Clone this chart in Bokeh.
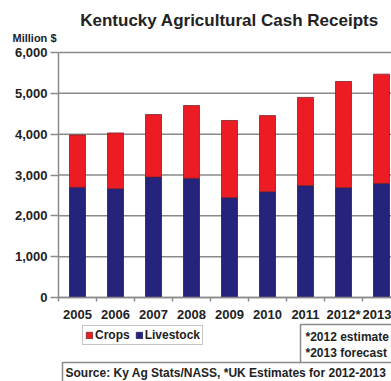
from bokeh.plotting import figure
from bokeh.models import (ColumnDataSource, FixedTicker, NumeralTickFormatter,
                          Label, Legend, LegendItem, Range1d)
from bokeh.embed import file_html
from bokeh.resources import INLINE

years = ["2005", "2006", "2007", "2008", "2009", "2010", "2011", "2012*", "2013"]
livestock = [2700, 2665, 2950, 2920, 2445, 2590, 2740, 2690, 2790]
crops = [1280, 1365, 1530, 1780, 1890, 1865, 2160, 2600, 2680]
y_ticks = [0, 1000, 2000, 3000, 4000, 5000, 6000]

title_text = "Kentucky Agricultural Cash Receipts"
y_title = "Million $"
note_text = "*2012 estimate\n*2013 forecast"
source_text = "Source:  Ky Ag Stats/NASS, *UK Estimates for 2012-2013"

RED = "#ED1C24"
NAVY = "#25237B"
GRAY = "#8A8A8A"
TXT = "#222222"
FONT = "Liberation Sans"

W, H = 391, 381
AX_X, AX_Y, TOP_Y = 58, 297, 52        # plot-area pixel edges
PX_CAT = 38.0                           # px per category
PX_VAL = (AX_Y - TOP_Y) / 6000.0        # px per unit value

x0 = -0.5 - AX_X / PX_CAT
x1 = -0.5 + (W - AX_X) / PX_CAT
y0 = -(H - AX_Y) / PX_VAL
y1 = AX_Y / PX_VAL

xs = list(range(len(years)))
src = ColumnDataSource(dict(x=xs, livestock=livestock, crops=crops))
gsrc = ColumnDataSource(dict(y=y_ticks, xa=[-0.5] * len(y_ticks), xb=[x1] * len(y_ticks)))

p = figure(width=W, height=H, output_backend="svg", toolbar_location=None,
           min_border=0, x_range=Range1d(x0, x1), y_range=Range1d(y0, y1))
p.outline_line_color = None
p.background_fill_color = "white"
p.border_fill_color = "white"
p.xgrid.visible = False
p.ygrid.visible = False

# horizontal grid lines restricted to the plot area
p.segment(x0="xa", x1="xb", y0="y", y1="y", source=gsrc,
          line_color=GRAY, line_width=1.5)

rs = p.vbar_stack(["livestock", "crops"], x="x", width=0.42, source=src,
                  fill_color=[NAVY, RED], line_color=["#1c1a5e", "#7a2323"],
                  line_width=0.8)

yax = p.yaxis[0]
yax.fixed_location = -0.5
yax.bounds = (0, 6000)
yax.ticker = FixedTicker(ticks=y_ticks)
yax.formatter = NumeralTickFormatter(format="0,0")
yax.axis_line_color = GRAY
yax.axis_line_width = 1.5
yax.major_tick_line_color = GRAY
yax.major_tick_line_width = 1.5
yax.major_tick_out = 8
yax.major_tick_in = 0
yax.minor_tick_line_color = None
yax.major_label_standoff = 3
yax.major_label_text_font = FONT
yax.major_label_text_font_style = "bold"
yax.major_label_text_font_size = "13px"
yax.major_label_text_color = TXT

xax = p.xaxis[0]
xax.fixed_location = 0
xax.bounds = (-0.5, x1)
xax.ticker = FixedTicker(ticks=xs, minor_ticks=[i - 0.5 for i in range(len(years) + 1)])
xax.major_label_overrides = {i: y for i, y in enumerate(years)}
xax.axis_line_color = GRAY
xax.axis_line_width = 1.5
xax.major_tick_line_color = None
xax.major_tick_out = 0
xax.major_tick_in = 0
xax.minor_tick_line_color = GRAY
xax.minor_tick_line_width = 1.5
xax.minor_tick_out = 4
xax.minor_tick_in = 0
xax.major_label_standoff = 5
xax.major_label_text_font = FONT
xax.major_label_text_font_style = "bold"
xax.major_label_text_font_size = "13px"
xax.major_label_text_color = TXT

# screen units: frame = whole canvas, origin bottom-left
p.add_layout(Label(x=229, y=H - 20, x_units="screen", y_units="screen", text=title_text,
                   text_align="center", text_baseline="alphabetic",
                   text_font=FONT, text_font_style="bold", text_font_size="17px",
                   text_color=TXT))
p.add_layout(Label(x=12, y=H - 37, x_units="screen", y_units="screen", text=y_title,
                   text_align="left", text_baseline="alphabetic",
                   text_font=FONT, text_font_style="bold", text_font_size="11px",
                   text_color=TXT))

legend = Legend(items=[LegendItem(label="Crops", renderers=[rs[1]]),
                       LegendItem(label="Livestock", renderers=[rs[0]])],
                location=(82, H - 345), orientation="horizontal",
                label_text_font=FONT, label_text_font_style="bold",
                label_text_font_size="12px", label_text_color=TXT,
                glyph_width=8, glyph_height=8, label_height=12, label_standoff=2,
                spacing=5, padding=2, margin=0,
                border_line_color=GRAY, border_line_width=1.5,
                background_fill_color="white", background_fill_alpha=1)
p.add_layout(legend)

p.add_layout(Label(x=300, y=H - 324, x_units="screen", y_units="screen", text=note_text,
                   text_align="left", text_baseline="top",
                   text_font=FONT, text_font_style="bold", text_font_size="12px",
                   text_color=TXT, padding=5,
                   border_line_color=GRAY, border_line_width=1.5,
                   background_fill_color="white"))
p.add_layout(Label(x=62, y=H - 362, x_units="screen", y_units="screen", text=source_text,
                   text_align="left", text_baseline="top",
                   text_font=FONT, text_font_style="bold", text_font_size="12px",
                   text_color=TXT, padding=3,
                   border_line_color=GRAY, border_line_width=1.5,
                   background_fill_color="white"))

open("out.html", "w").write(file_html(p, INLINE))
